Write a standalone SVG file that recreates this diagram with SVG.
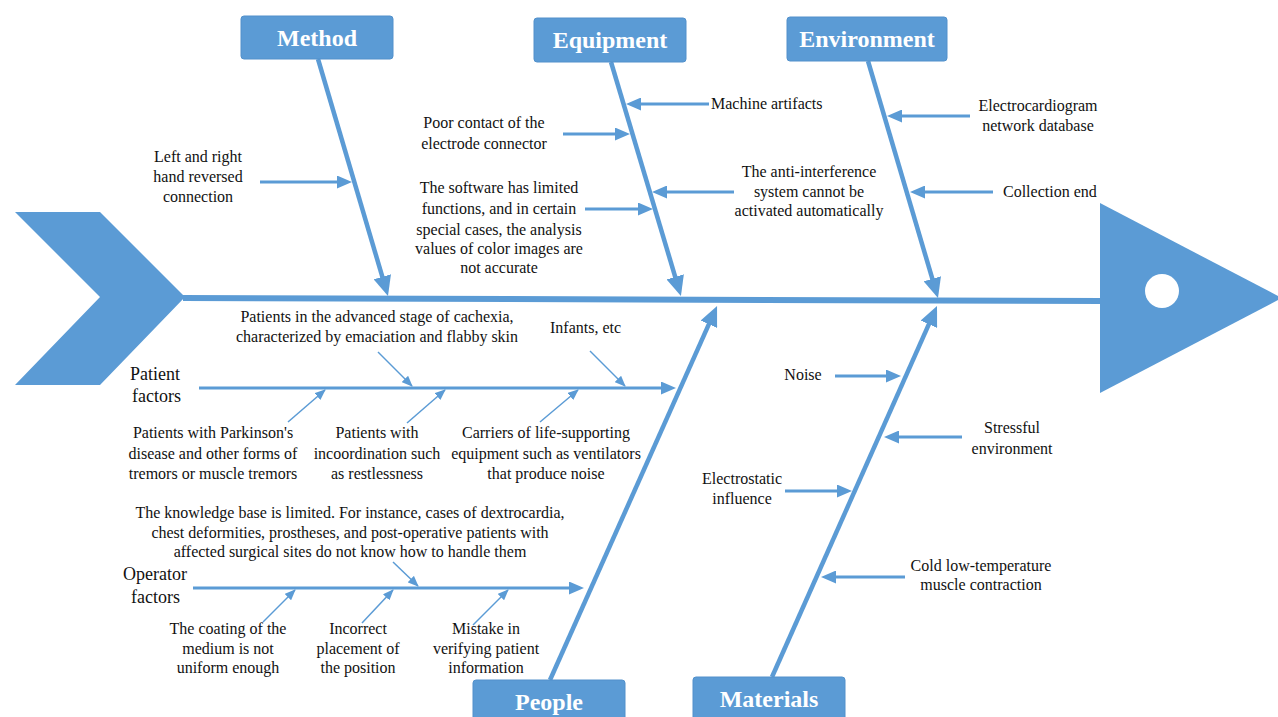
<svg xmlns="http://www.w3.org/2000/svg" width="1278" height="717" viewBox="0 0 1278 717">
<style>
.t{font-family:"Liberation Serif","Times New Roman",serif;font-size:16px;fill:#111}
.c{text-anchor:middle}
.lab{font-family:"Liberation Serif","Times New Roman",serif;font-size:18px;fill:#111}
.bt{font-family:"Liberation Serif","Times New Roman",serif;font-size:24px;font-weight:bold;fill:#fff;text-anchor:middle}
.box{fill:#5B9BD5;stroke:#5290CB;stroke-width:1}
.fish{fill:#5B9BD5}
.bone{stroke:#5B9BD5;stroke-width:4.5;fill:none;marker-end:url(#big)}
.side{stroke:#5B9BD5;stroke-width:3;fill:none;marker-end:url(#mid)}
.thin{stroke:#5B9BD5;stroke-width:1.5;fill:none;marker-end:url(#sm)}
</style>
<defs>
<marker id="big" markerUnits="userSpaceOnUse" markerWidth="20" markerHeight="18" refX="2" refY="9" orient="auto"><path d="M0,0 L20,9 L0,18 z" fill="#5B9BD5"/></marker>
<marker id="mid" markerUnits="userSpaceOnUse" markerWidth="15" markerHeight="13" refX="2" refY="6.5" orient="auto"><path d="M0,0 L15,6.5 L0,13 z" fill="#5B9BD5"/></marker>
<marker id="sm" markerUnits="userSpaceOnUse" markerWidth="11" markerHeight="9" refX="10" refY="4.5" orient="auto"><path d="M0,0 L11,4.5 L0,9 z" fill="#5B9BD5"/></marker>
</defs>
<rect width="1278" height="717" fill="#fff"/>
<g id="fish">
<polygon class="fish" points="15,212 100,212 185,297 100,385 15,385 100,297"/>
<line x1="183" y1="298" x2="1102" y2="301" stroke="#5B9BD5" stroke-width="6"/>
<polygon class="fish" points="1100,203 1278,296 1278,300 1100,393"/>
<circle cx="1162" cy="291" r="17" fill="#fff"/>
</g>
<g id="connectors">
<line class="bone" x1="318" y1="59" x2="382.9" y2="278.7"/>
<line class="bone" x1="611" y1="62" x2="675.8" y2="278.8"/>
<line class="bone" x1="868" y1="61" x2="932.9" y2="280.7"/>
<line class="bone" x1="550" y1="680" x2="709.7" y2="322.4"/>
<line class="bone" x1="772" y1="677" x2="929.7" y2="322.4"/>
<line class="side" x1="260" y1="182" x2="339" y2="182"/>
<line class="side" x1="709" y1="104" x2="639" y2="104"/>
<line class="side" x1="563" y1="134" x2="617" y2="134"/>
<line class="side" x1="585" y1="209" x2="640" y2="209"/>
<line class="side" x1="734" y1="192" x2="665" y2="192"/>
<line class="side" x1="970" y1="116" x2="900" y2="116"/>
<line class="side" x1="993" y1="192" x2="923" y2="192"/>
<line class="side" x1="835" y1="376" x2="888" y2="376"/>
<line class="side" x1="962" y1="437" x2="897" y2="437"/>
<line class="side" x1="785" y1="491" x2="839" y2="491"/>
<line class="side" x1="905" y1="577" x2="834" y2="577"/>
<line class="side" x1="199" y1="388" x2="663" y2="388"/>
<line class="side" x1="193" y1="588" x2="571" y2="588"/>
<line class="thin" x1="378" y1="352" x2="412" y2="386"/>
<line class="thin" x1="590" y1="351" x2="625" y2="386"/>
<line class="thin" x1="288" y1="422" x2="325" y2="390"/>
<line class="thin" x1="407" y1="423" x2="445" y2="390"/>
<line class="thin" x1="540" y1="422" x2="578" y2="390"/>
<line class="thin" x1="393" y1="562" x2="418" y2="586"/>
<line class="thin" x1="263" y1="622" x2="295" y2="590"/>
<line class="thin" x1="362" y1="623" x2="393" y2="590"/>
<line class="thin" x1="473" y1="625" x2="508" y2="590"/>
</g>
<g id="method"><rect class="box" x="241" y="16" width="152" height="43" rx="3"/><text class="bt" x="317" y="46">Method</text></g>
<g id="equipment"><rect class="box" x="534" y="18" width="152" height="44" rx="3"/><text class="bt" x="610" y="48">Equipment</text></g>
<g id="environment"><rect class="box" x="787" y="17" width="160" height="44" rx="3"/><text class="bt" x="867" y="47">Environment</text></g>
<g id="people"><rect class="box" x="473" y="680" width="152" height="50" rx="3"/><text class="bt" x="549" y="710">People</text></g>
<g id="materials"><rect class="box" x="693" y="677" width="152" height="50" rx="3"/><text class="bt" x="769" y="707">Materials</text></g>
<g id="method-causes">
<text class="t c" x="198" y="162">Left and right</text>
<text class="t c" x="198" y="182">hand reversed</text>
<text class="t c" x="198" y="202">connection</text>
</g>
<g id="equipment-causes">
<text class="t" x="711" y="109">Machine artifacts</text>
<text class="t c" x="484" y="128">Poor contact of the</text>
<text class="t c" x="484" y="149">electrode connector</text>
<text class="t c" x="499" y="193">The software has limited</text>
<text class="t c" x="499" y="214">functions, and in certain</text>
<text class="t c" x="499" y="235">special cases, the analysis</text>
<text class="t c" x="499" y="254">values of color images are</text>
<text class="t c" x="499" y="273">not accurate</text>
<text class="t c" x="809" y="177">The anti-interference</text>
<text class="t c" x="809" y="197">system cannot be</text>
<text class="t c" x="809" y="216">activated automatically</text>
</g>
<g id="environment-causes">
<text class="t c" x="1038" y="111">Electrocardiogram</text>
<text class="t c" x="1038" y="131">network database</text>
<text class="t" x="1003" y="197">Collection end</text>
</g>
<g id="patient-factors">
<text class="lab" x="130" y="380">Patient</text>
<text class="lab" x="132" y="402">factors</text>
<text class="t c" x="377" y="322">Patients in the advanced stage of cachexia,</text>
<text class="t c" x="377" y="342">characterized by emaciation and flabby skin</text>
<text class="t" x="550" y="333">Infants, etc</text>
<text class="t c" x="213" y="438">Patients with Parkinson's</text>
<text class="t c" x="213" y="459">disease and other forms of</text>
<text class="t c" x="213" y="479">tremors or muscle tremors</text>
<text class="t c" x="377" y="438">Patients with</text>
<text class="t c" x="377" y="459">incoordination such</text>
<text class="t c" x="377" y="479">as restlessness</text>
<text class="t c" x="546" y="438">Carriers of life-supporting</text>
<text class="t c" x="546" y="459">equipment such as ventilators</text>
<text class="t c" x="546" y="479">that produce noise</text>
</g>
<g id="operator-factors">
<text class="lab" x="123" y="580">Operator</text>
<text class="lab" x="131" y="603">factors</text>
<text class="t c" x="350" y="518">The knowledge base is limited. For instance, cases of dextrocardia,</text>
<text class="t c" x="350" y="538">chest deformities, prostheses, and post-operative patients with</text>
<text class="t c" x="350" y="557">affected surgical sites do not know how to handle them</text>
<text class="t c" x="228" y="634">The coating of the</text>
<text class="t c" x="228" y="654">medium is not</text>
<text class="t c" x="228" y="673">uniform enough</text>
<text class="t c" x="358" y="634">Incorrect</text>
<text class="t c" x="358" y="654">placement of</text>
<text class="t c" x="358" y="673">the position</text>
<text class="t c" x="486" y="634">Mistake in</text>
<text class="t c" x="486" y="654">verifying patient</text>
<text class="t c" x="486" y="673">information</text>
</g>
<g id="materials-causes">
<text class="t c" x="803" y="380">Noise</text>
<text class="t c" x="1012" y="433">Stressful</text>
<text class="t c" x="1012" y="454">environment</text>
<text class="t c" x="742" y="484">Electrostatic</text>
<text class="t c" x="742" y="504">influence</text>
<text class="t c" x="981" y="571">Cold low-temperature</text>
<text class="t c" x="981" y="590">muscle contraction</text>
</g>
</svg>
